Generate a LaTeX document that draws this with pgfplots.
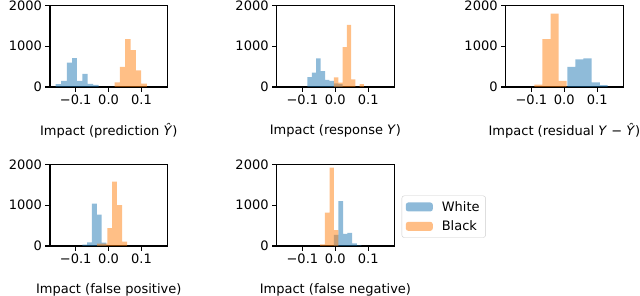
\documentclass[border=0pt]{standalone}
\usepackage{fontspec}
\setmainfont{DejaVu Sans}
\usepackage{pgfplots}
\pgfplotsset{compat=1.18}
\definecolor{mblue}{RGB}{31,119,180}
\definecolor{morange}{RGB}{255,127,14}
\newcommand{\fs}{\fontsize{13pt}{15.6pt}\selectfont}
\pgfplotsset{
  hp/.style={
    scale only axis, width=117.5pt, height=81.5pt, anchor=south west,
    xmin=-0.178, xmax=0.179, ymin=0, ymax=2000,
    xtick={-0.1,0,0.1}, xticklabels={−0.1,0.0,0.1},
    ytick={0,1000,2000}, yticklabels={0,1000,2000},
    xtick pos=left, ytick pos=left, tick align=outside,
    major tick length=4.6pt,
    every tick/.style={black, line width=1.1pt},
    axis line style={line width=1.1pt},
    tick label style={font=\fs},
    label style={font=\fs},
    xlabel style={at={(axis description cs:0.5,0)}, anchor=center, yshift=-44pt},
    clip=true,
  },
  bb/.style={ybar interval, fill=mblue, fill opacity=0.5, draw=none},
  bo/.style={ybar interval, fill=morange, fill opacity=0.5, draw=none},
}
\begin{document}
\begin{tikzpicture}[font=\fs]
\useasboundingbox (0,0) rectangle (640pt,296pt);
% 1: prediction
\begin{axis}[hp, at={(50pt,209pt)}, xlabel={Impact (prediction \textit{\^{Y}})}]
\addplot[bb] coordinates {(-0.161,70) (-0.144,150) (-0.127,600) (-0.111,710) (-0.096,150) (-0.080,320) (-0.064,75) (-0.047,50) (-0.030,0)};
\addplot[bo] coordinates {(0.018,115) (0.034,495) (0.050,1175) (0.067,905) (0.083,405) (0.099,85) (0.116,0)};
\end{axis}
% 2: response
\begin{axis}[hp, at={(276.7pt,209pt)}, xlabel={Impact (response \textit{Y})}]
\addplot[bb] coordinates {(-0.0847,240) (-0.0713,350) (-0.0579,705) (-0.0445,390) (-0.0311,175) (-0.0177,150) (-0.0043,90) (0.0091,70) (0.0225,0)};
\addplot[bo] coordinates {(-0.004,235) (0.009,110) (0.022,980) (0.035,1525) (0.048,185) (0.061,0) (0.074,70) (0.087,0)};
\end{axis}
% 3: residual
\begin{axis}[hp, at={(505.7pt,209pt)}, xlabel={Impact (residual \textit{Y} − \textit{\^{Y}})}]
\addplot[bb] coordinates {(0.0092,495) (0.0337,680) (0.058,705) (0.083,115) (0.108,45) (0.132,0)};
\addplot[bo] coordinates {(-0.0908,60) (-0.0663,1175) (-0.0418,1800) (-0.0173,150) (0.0072,0)};
\end{axis}
% 4: false positive
\begin{axis}[hp, at={(50pt,50pt)}, xlabel={Impact (false positive)}]
\addplot[bb] coordinates {(-0.0796,35) (-0.065,90) (-0.0504,1040) (-0.0358,770) (-0.0212,80) (-0.0066,0)};
\addplot[bo] coordinates {(-0.0347,60) (-0.0194,60) (-0.004,440) (0.011,1580) (0.0255,1000) (0.0408,105) (0.056,0)};
\end{axis}
% 5: false negative
\begin{axis}[hp, at={(276.7pt,50pt)}, xlabel={Impact (false negative)},
  legend style={at={(1.063,0.36)}, anchor=west, draw=black!20, rounded corners=2.5pt,
    font=\fs, fill=white, inner xsep=4pt, inner ysep=3.5pt, row sep=4pt,
    column sep=7pt},
  legend cell align=left,
  legend image code/.code={\fill[#1] (0pt,-4.5pt) rectangle (27pt,4.5pt);}]
\addplot[bb] coordinates {(-0.0041,270) (0.0092,1100) (0.0235,300) (0.0367,325) (0.051,65) (0.0653,15) (0.0796,0)};
\addlegendentry{White}
\addplot[bo] coordinates {(-0.0459,40) (-0.0316,820) (-0.0173,1925) (-0.0041,390) (0.0092,0)};
\addlegendentry{Black}
\end{axis}
\end{tikzpicture}
\end{document}
